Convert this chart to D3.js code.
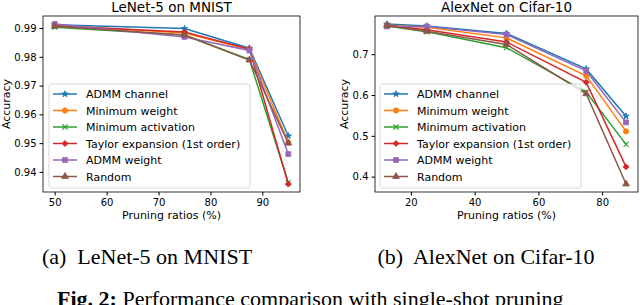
<!DOCTYPE html>
<html>
<head>
<meta charset="utf-8">
<script src="https://cdn.jsdelivr.net/npm/d3@7"></script>
<style>
  body { margin: 0; background: #fff; }
  svg { display: block; }
  .tick text { font-family: "DejaVu Sans", sans-serif; font-size: 10px; fill: #000; }
</style>
</head>
<body>
<svg id="chart" width="640" height="305"></svg>
<script>
// ---- data ----
const seriesNames = ['ADMM channel', 'Minimum weight', 'Minimum activation',
  'Taylor expansion (1st order)', 'ADMM weight', 'Random'];

const lenetRatios = [50, 75, 87.5, 95];
const lenetAdmmChannel = [0.9911, 0.9898, 0.9830, 0.9525];
const lenetMinWeight = [0.9910, 0.9883, 0.9825, 0.9502];
const lenetMinActivation = [0.9903, 0.9876, 0.9790, 0.9362];
const lenetTaylor = [0.9908, 0.9886, 0.9827, 0.9358];
const lenetAdmmWeight = [0.9914, 0.9869, 0.9822, 0.9462];
const lenetRandom = [0.9906, 0.9876, 0.9789, 0.9500];
const lenetXTicks = [50, 60, 70, 80, 90];
const lenetYTicks = [0.94, 0.95, 0.96, 0.97, 0.98, 0.99];

const alexRatios = [12.5, 25, 50, 75, 87.5];
const alexAdmmChannel = [0.774, 0.769, 0.751, 0.664, 0.548];
const alexMinWeight = [0.771, 0.766, 0.740, 0.647, 0.511];
const alexMinActivation = [0.769, 0.755, 0.716, 0.607, 0.479];
const alexTaylor = [0.771, 0.760, 0.730, 0.631, 0.424];
const alexAdmmWeight = [0.768, 0.768, 0.748, 0.659, 0.533];
const alexRandom = [0.770, 0.756, 0.724, 0.603, 0.382];
const alexXTicks = [20, 40, 60, 80];
const alexYTicks = [0.4, 0.5, 0.6, 0.7];

const colors = ['#1f77b4', '#ff7f0e', '#2ca02c', '#d62728', '#9467bd', '#8c564b'];
const markers = ['star', 'circle', 'x', 'diamond', 'square', 'triangle'];

const svg = d3.select('#chart');

// marker drawing, roughly like matplotlib's *, o, x, D, s, ^
function drawMarker(g, kind, color, x, y) {
  if (kind === 'x') {
    const s = 2.5;
    g.append('path')
      .attr('d', `M${x - s},${y - s}L${x + s},${y + s}M${x - s},${y + s}L${x + s},${y - s}`)
      .attr('stroke', color).attr('stroke-width', 1.2).attr('fill', 'none');
    return;
  }
  const types = {
    star: [d3.symbolStar, 13, 0],
    circle: [d3.symbolCircle, 22, 0],
    diamond: [d3.symbolSquare, 18, 45],
    square: [d3.symbolSquare, 24, 0],
    triangle: [d3.symbolTriangle, 20, 0],
  };
  const t = types[kind];
  g.append('path')
    .attr('d', d3.symbol().type(t[0]).size(t[1])())
    .attr('transform', `translate(${x},${y}) rotate(${t[2]})`)
    .attr('fill', color).attr('stroke', color).attr('stroke-width', 0.8);
}

function padded(ext) {
  const m = (ext[1] - ext[0]) * 0.05;
  return [ext[0] - m, ext[1] + m];
}

function panel(d) {
  const g = svg.append('g');
  const x = d3.scaleLinear().domain(padded(d3.extent(d.ratios))).range([d.left, d.right]);
  const allY = d.series.flat();
  const y = d3.scaleLinear().domain(padded(d3.extent(allY))).range([d.bottom, d.top]);

  // lines + markers
  d.series.forEach((vals, i) => {
    const pts = vals.map((v, j) => [x(d.ratios[j]), y(v)]);
    g.append('path')
      .attr('d', d3.line()(pts))
      .attr('fill', 'none')
      .attr('stroke', colors[i])
      .attr('stroke-width', 1.5);
    pts.forEach(p => drawMarker(g, markers[i], colors[i], p[0], p[1]));
  });

  // frame
  g.append('rect')
    .attr('x', d.left).attr('y', d.top)
    .attr('width', d.right - d.left).attr('height', d.bottom - d.top)
    .attr('fill', 'none').attr('stroke', '#000').attr('stroke-width', 0.8);

  g.append('g')
    .attr('transform', `translate(0,${d.bottom})`)
    .call(d3.axisBottom(x).tickValues(d.xTicks).tickSize(3.5).tickPadding(3).tickFormat(d3.format('d')))
    .call(a => a.select('.domain').remove());
  g.append('g')
    .attr('transform', `translate(${d.left},0)`)
    .call(d3.axisLeft(y).tickValues(d.yTicks).tickSize(3.5).tickPadding(3).tickFormat(d3.format(d.yFmt)))
    .call(a => a.select('.domain').remove());

  // title and axis labels
  const mid = (d.left + d.right) / 2;
  g.append('text').attr('x', mid).attr('y', 12).attr('text-anchor', 'middle')
    .attr('font-family', 'DejaVu Sans').attr('font-size', 13.5).text(d.title);
  g.append('text').attr('x', mid).attr('y', 219).attr('text-anchor', 'middle')
    .attr('font-family', 'DejaVu Sans').attr('font-size', 11).text('Pruning ratios (%)');
  g.append('text')
    .attr('transform', `translate(${d.ylabelX},${(d.top + d.bottom) / 2}) rotate(-90)`)
    .attr('text-anchor', 'middle')
    .attr('font-family', 'DejaVu Sans').attr('font-size', 11).text('Accuracy');

  // legend
  const lg = g.append('g');
  lg.append('rect')
    .attr('x', d.legX).attr('y', 84).attr('width', 201).attr('height', 104)
    .attr('rx', 2.5).attr('fill', 'rgba(255,255,255,0.8)')
    .attr('stroke', '#cccccc').attr('stroke-width', 0.8);
  seriesNames.forEach((name, i) => {
    const ry = 94 + i * 16.5;
    lg.append('line')
      .attr('x1', d.legX + 4).attr('x2', d.legX + 28).attr('y1', ry).attr('y2', ry)
      .attr('stroke', colors[i]).attr('stroke-width', 1.5);
    drawMarker(lg, markers[i], colors[i], d.legX + 16, ry);
    lg.append('text').attr('x', d.legX + 37).attr('y', ry + 4)
      .attr('font-family', 'DejaVu Sans').attr('font-size', 11).text(name);
  });

  // sub caption
  svg.append('text').attr('x', d.capX).attr('y', 264).attr('text-anchor', 'middle')
    .attr('font-family', 'Liberation Serif, serif').attr('font-size', 22)
    .attr('xml:space', 'preserve').text(d.caption);
}

panel({
  ratios: lenetRatios,
  series: [lenetAdmmChannel, lenetMinWeight, lenetMinActivation, lenetTaylor, lenetAdmmWeight, lenetRandom],
  xTicks: lenetXTicks, yTicks: lenetYTicks, yFmt: '.2f',
  left: 43, right: 300, top: 16, bottom: 192,
  title: 'LeNet-5 on MNIST', ylabelX: 10, legX: 49,
  caption: '(a)  LeNet-5 on MNIST', capX: 147,
});

panel({
  ratios: alexRatios,
  series: [alexAdmmChannel, alexMinWeight, alexMinActivation, alexTaylor, alexAdmmWeight, alexRandom],
  xTicks: alexXTicks, yTicks: alexYTicks, yFmt: '.1f',
  left: 375, right: 638, top: 16, bottom: 192,
  title: 'AlexNet on Cifar-10', ylabelX: 348, legX: 380,
  caption: '(b)  AlexNet on Cifar-10', capX: 486,
});

svg.append('text').attr('x', 57).attr('y', 306)
  .attr('font-family', 'Liberation Serif, serif').attr('font-size', 22)
  .html('<tspan font-weight="bold">Fig. 2:</tspan> Performance comparison with single-shot pruning');
</script>
</body>
</html>
